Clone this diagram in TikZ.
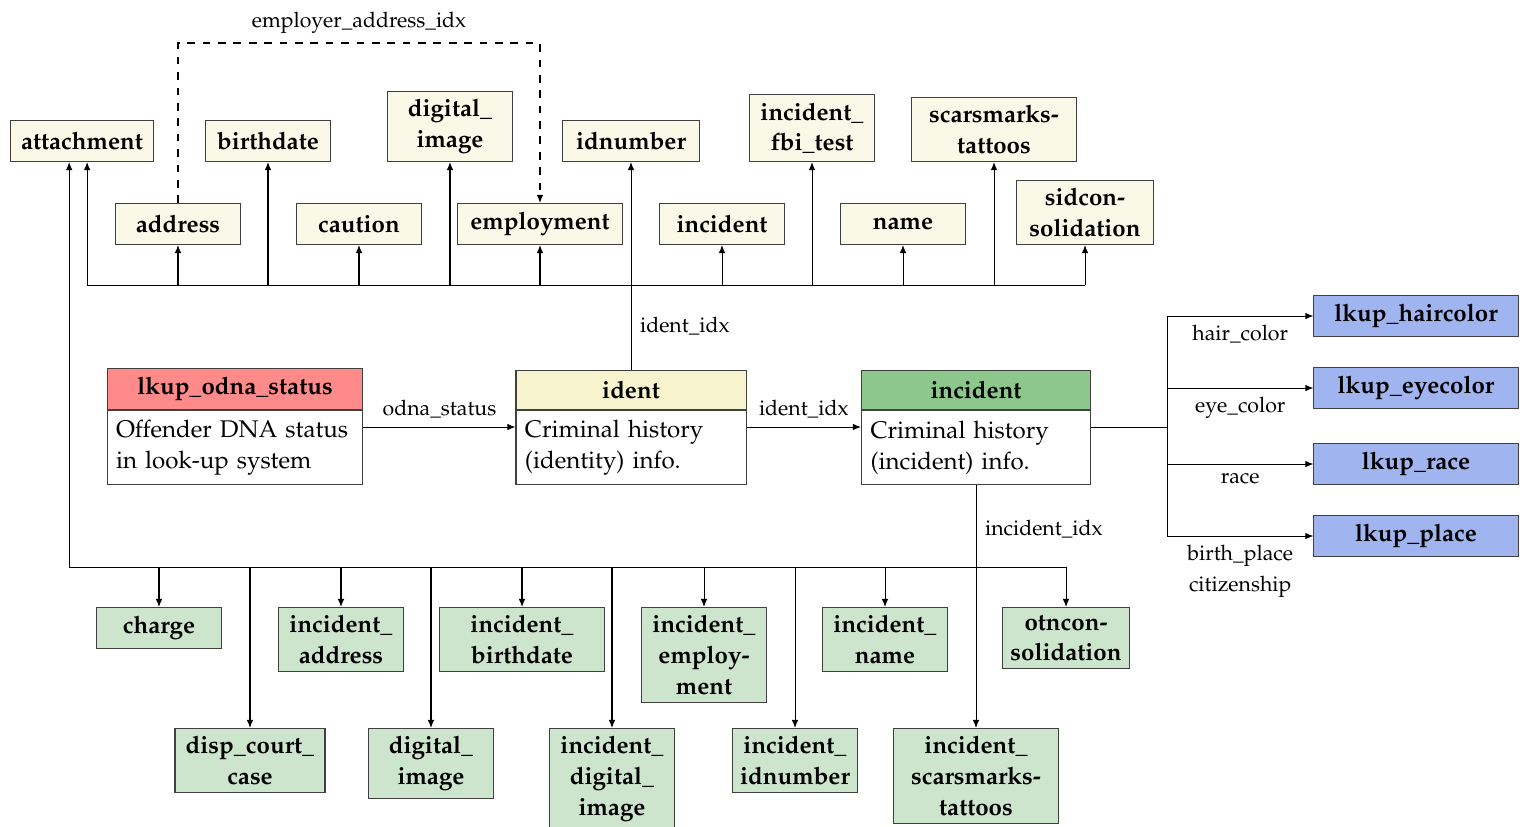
\documentclass[tikz,border=0pt]{standalone}
\usepackage[T1]{fontenc}
\usepackage{mathpazo}
\usepackage{xcolor}
\usepackage{tikz}
\usetikzlibrary{arrows.meta, positioning, calc}
\definecolor{ltyellow}{HTML}{FAF8E6}
\definecolor{hdyellow}{HTML}{F7F3CC}
\definecolor{hdred}{HTML}{FF8A8A}
\definecolor{hdgreen}{HTML}{8CC88C}
\definecolor{ltgreen}{HTML}{CCE5CC}
\definecolor{lkblue}{HTML}{A0B4F0}
\tikzset{
    erdiagram/.style={>={Latex[length=3.2pt,width=2.6pt]}, x=0.39pt, y=-0.39pt},
    entity/.style={draw=black!75, fill=ltyellow, font=\fontsize{9.4}{12}\selectfont\bfseries, align=center, minimum width=48.4pt, minimum height=16pt, inner xsep=3pt, inner ysep=3pt},
    detail/.style={entity, fill=ltgreen},
    lookup/.style={entity, fill=lkblue, minimum width=79.6pt},
    tblhead/.style={draw=black!75, font=\fontsize{9.4}{12}\selectfont\bfseries, minimum height=15pt, inner sep=2pt},
    tblbody/.style={draw=black!75, fill=white, font=\fontsize{9.4}{12}\selectfont, align=left, inner xsep=3.5pt, inner ysep=3pt, minimum height=29pt},
    lbl/.style={font=\fontsize{8.3}{12}\selectfont},
}

\begin{document}
\begin{tikzpicture}[erdiagram]
    \useasboundingbox (0,0) rectangle (1520,826);

    % identity side tables (top)
    \node[entity, anchor=south, minimum width=55.4pt] (attach)  at (82,162)   {attachment};
    \node[entity, anchor=south]                       (birth)   at (268,162)  {birthdate};
    \node[entity, anchor=south]                       (digimg)  at (450,162)  {digital\_\\image};
    \node[entity, anchor=south, minimum width=53.4pt] (idnum)   at (631,162)  {idnumber};
    \node[entity, anchor=south]                       (fbitest) at (812,162)  {incident\_\\fbi\_test};
    \node[entity, anchor=south, minimum width=64pt]   (scars)   at (994,162)  {scarsmarks-\\tattoos};
    \node[entity, anchor=south]                       (addr)    at (178,245)  {address};
    \node[entity, anchor=south]                       (caution) at (359,245)  {caution};
    \node[entity, anchor=south, minimum width=64pt]   (employ)  at (540,245)  {employment};
    \node[entity, anchor=south]                       (incid)   at (722,245)  {incident};
    \node[entity, anchor=south]                       (name)    at (903,245)  {name};
    \node[entity, anchor=south, minimum width=53.4pt] (sidcon)  at (1085,245) {sidcon-\\solidation};

    % main tables
    \node[tblhead, fill=hdred, minimum width=99.8pt, minimum height=16pt] (odna) at (235,389) {lkup\_odna\_status};
    \node[tblbody, text width=92.8pt, below=0pt of odna] (odnabody)
        {\mbox{Offender DNA status}\\\mbox{in look-up system}};
    \node[tblhead, fill=hdyellow, minimum width=89.7pt] (ident) at (631,390) {ident};
    \node[tblbody, text width=82.7pt, below=0pt of ident] (identbody)
        {\mbox{Criminal history}\\\mbox{(identity) info.}};
    \node[tblhead, fill=hdgreen, minimum width=89.3pt] (incident) at (976,390) {incident};
    \node[tblbody, text width=82.3pt, below=0pt of incident] (incidentbody)
        {\mbox{Criminal history}\\\mbox{(incident) info.}};

    % look-up tables
    \node[lookup] (hair)  at (1416,316) {lkup\_haircolor};
    \node[lookup] (eye)   at (1416,388) {lkup\_eyecolor};
    \node[lookup] (race)  at (1416,464) {lkup\_race};
    \node[lookup] (place) at (1416,536) {lkup\_place};

    % incident side tables (bottom)
    \node[detail, anchor=north]                       (charge)    at (159,607)  {charge};
    \node[detail, anchor=north]                       (iaddr)     at (341,607)  {incident\_\\address};
    \node[detail, anchor=north, minimum width=64pt]   (ibirth)    at (522,607)  {incident\_\\birthdate};
    \node[detail, anchor=north]                       (iemploy)   at (704,607)  {incident\_\\employ-\\ment};
    \node[detail, anchor=north]                       (iname)     at (885,607)  {incident\_\\name};
    \node[detail, anchor=north]                       (otncon)    at (1066,607) {otncon-\\solidation};
    \node[detail, anchor=north, minimum width=58.5pt] (dispcourt) at (250,728)  {disp\_court\_\\case};
    \node[detail, anchor=north]                       (digimg2)   at (431,728)  {digital\_\\image};
    \node[detail, anchor=north]                       (idigimg)   at (612,728)  {incident\_\\digital\_\\image};
    \node[detail, anchor=north]                       (iidnum)    at (795,728)  {incident\_\\idnumber};
    \node[detail, anchor=north, minimum width=64pt]   (iscars)    at (976,728)  {incident\_\\scarsmarks-\\tattoos};

    \coordinate (dashtop) at (0,43);
    \coordinate (topbus)  at (0,285);
    \coordinate (rowy)    at (0,427);
    \coordinate (botbus)  at (0,567);

    % employer address link
    \draw[dashed, ->] (addr.north) -- (addr.north |- dashtop)
        -- node[lbl, above] {employer\_address\_idx} (employ.north |- dashtop) -- (employ.north);

    % ident to its side tables
    \draw ([xshift=2pt]attach.south |- topbus) -- (sidcon.south |- topbus);
    \draw[->] ([xshift=2pt]attach.south |- topbus) -- ([xshift=2pt]attach.south);
    \foreach \n in {addr, birth, caution, digimg, employ, incid, fbitest, name, scars, sidcon}
        \draw[->] (\n.south |- topbus) -- (\n.south);
    \draw[->] (ident.north) -- node[lbl, pos=0.21, right] {ident\_idx} (idnum.south);

    \draw[->] (odnabody.east |- rowy) -- node[lbl, above] {odna\_status} (identbody.west |- rowy);
    \draw[->] (identbody.east |- rowy) -- node[lbl, above] {ident\_idx} (incidentbody.west |- rowy);

    % look-ups
    \draw (incidentbody.east |- rowy) -- (1167,427) coordinate (fork);
    \draw[->] (fork) |- node[lbl, pos=0.75, below] {hair\_color} (hair.west);
    \draw[->] (fork) |- node[lbl, pos=0.75, below] {eye\_color} (eye.west);
    \draw[->] (fork) |- node[lbl, pos=0.75, below] {race} (race.west);
    \draw[->] (fork) |- node[lbl, pos=0.75, below, align=center] {birth\_place\\citizenship} (place.west);

    % incident to its side tables
    \draw[->] (otncon.north |- botbus) -- ([xshift=-5pt]attach.south |- botbus) -- ([xshift=-5pt]attach.south);
    \foreach \n in {charge, iaddr, ibirth, iemploy, iname, otncon, dispcourt, digimg2, idigimg, iidnum}
        \draw[->] (\n.north |- botbus) -- (\n.north);
    \draw[->] (incidentbody.south) -- node[lbl, pos=0.18, right] {incident\_idx} (iscars.north);
\end{tikzpicture}
\end{document}
